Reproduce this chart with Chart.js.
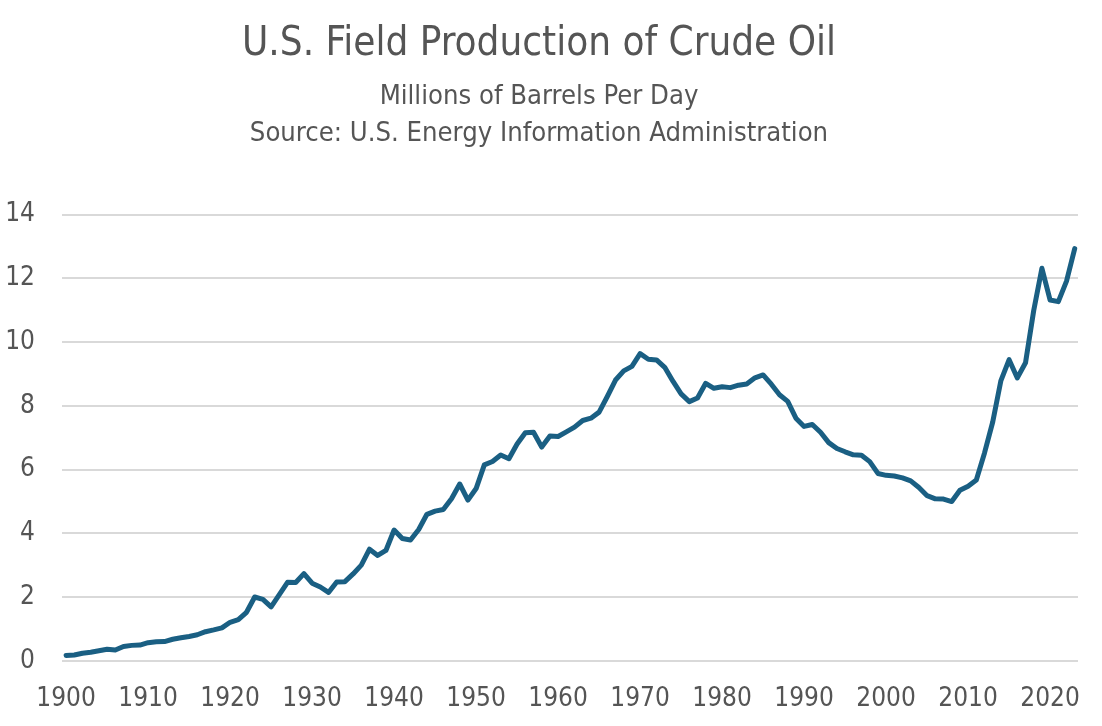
<!DOCTYPE html>
<html>
<head>
<meta charset="utf-8">
<script src="https://cdn.jsdelivr.net/npm/chart.js@4.4.1/dist/chart.umd.min.js"></script>
<style>
  html, body { margin: 0; padding: 0; background: #ffffff; }
  #wrap { width: 1102px; height: 726px; }
</style>
</head>
<body>
<div id="wrap"><canvas id="c" width="1102" height="726"></canvas></div>
<script>
const titleText = "U.S. Field Production of Crude Oil";
const subtitleLines = ["Millions of Barrels Per Day", "Source: U.S. Energy Information Administration"];

const years = [
  1900,1901,1902,1903,1904,1905,1906,1907,1908,1909,
  1910,1911,1912,1913,1914,1915,1916,1917,1918,1919,
  1920,1921,1922,1923,1924,1925,1926,1927,1928,1929,
  1930,1931,1932,1933,1934,1935,1936,1937,1938,1939,
  1940,1941,1942,1943,1944,1945,1946,1947,1948,1949,
  1950,1951,1952,1953,1954,1955,1956,1957,1958,1959,
  1960,1961,1962,1963,1964,1965,1966,1967,1968,1969,
  1970,1971,1972,1973,1974,1975,1976,1977,1978,1979,
  1980,1981,1982,1983,1984,1985,1986,1987,1988,1989,
  1990,1991,1992,1993,1994,1995,1996,1997,1998,1999,
  2000,2001,2002,2003,2004,2005,2006,2007,2008,2009,
  2010,2011,2012,2013,2014,2015,2016,2017,2018,2019,
  2020,2021,2022,2023
];

const production = [
  0.174,0.190,0.244,0.275,0.321,0.369,0.345,0.456,0.490,0.500,
  0.574,0.604,0.610,0.681,0.728,0.770,0.822,0.919,0.975,1.038,
  1.214,1.295,1.527,2.007,1.935,1.700,2.080,2.469,2.463,2.740,
  2.440,2.320,2.150,2.478,2.488,2.730,3.006,3.505,3.310,3.466,
  4.107,3.842,3.796,4.125,4.600,4.700,4.751,5.088,5.550,5.046,
  5.407,6.150,6.256,6.458,6.342,6.807,7.160,7.170,6.710,7.054,
  7.040,7.183,7.332,7.542,7.614,7.804,8.295,8.810,9.096,9.238,
  9.637,9.463,9.441,9.208,8.774,8.375,8.132,8.245,8.707,8.552,
  8.597,8.572,8.649,8.688,8.879,8.971,8.680,8.349,8.140,7.613,
  7.355,7.417,7.171,6.847,6.662,6.560,6.465,6.452,6.252,5.881,
  5.822,5.801,5.744,5.649,5.441,5.184,5.086,5.077,5.000,5.353,
  5.482,5.674,6.523,7.494,8.793,9.448,8.877,9.352,10.991,12.315,
  11.318,11.269,11.911,12.930
];

const xTickValues = [1900,1910,1920,1930,1940,1950,1960,1970,1980,1990,2000,2010,2020];
const yTickValues = [0,2,4,6,8,10,12,14];

const FONT = "'Liberation Sans Narrow', 'DejaVu Sans Condensed', 'Roboto Condensed', sans-serif";
const TEXT = '#555555';

const points = years.map((y, i) => ({ x: y, y: production[i] }));

new Chart(document.getElementById('c'), {
  type: 'line',
  data: {
    datasets: [{
      data: points,
      borderColor: '#1a5f83',
      borderWidth: 5,
      pointRadius: 0,
      pointHoverRadius: 0,
      tension: 0,
      fill: false,
      borderJoinStyle: 'round',
      borderCapStyle: 'round'
    }]
  },
  options: {
    responsive: false,
    devicePixelRatio: 1,
    animation: false,
    layout: { padding: { left: 0, right: 24, top: 0, bottom: 0 } },
    plugins: {
      legend: { display: false },
      tooltip: { enabled: false },
      title: {
        display: true,
        text: titleText,
        color: TEXT,
        font: { family: FONT, size: 40, weight: 'normal', lineHeight: 1.2 },
        padding: { top: 21, bottom: 9 }
      },
      subtitle: {
        display: true,
        text: subtitleLines,
        color: TEXT,
        font: { family: FONT, size: 27.2, weight: 'normal', lineHeight: 1.37 },
        padding: { top: 0, bottom: 62 }
      }
    },
    scales: {
      x: {
        type: 'linear',
        min: 1899.5,
        max: 2023.4,
        grid: { display: false },
        border: { display: false },
        afterBuildTicks: (s) => { s.ticks = xTickValues.map(v => ({ value: v })); },
        afterFit: (s) => { s.height = 65; },
        ticks: {
          color: TEXT,
          font: { family: FONT, size: 26 },
          padding: 15,
          maxRotation: 0,
          autoSkip: false,
          callback: (v) => String(v)
        }
      },
      y: {
        min: 0,
        max: 14,
        grid: { color: '#d9d9d9', lineWidth: 2, drawTicks: false },
        border: { display: false },
        afterBuildTicks: (s) => { s.ticks = yTickValues.map(v => ({ value: v })); },
        afterFit: (s) => { s.width = 62; },
        ticks: {
          color: TEXT,
          font: { family: FONT, size: 26 },
          padding: 27,
          callback: (v) => String(v)
        }
      }
    }
  }
});
</script>
</body>
</html>
